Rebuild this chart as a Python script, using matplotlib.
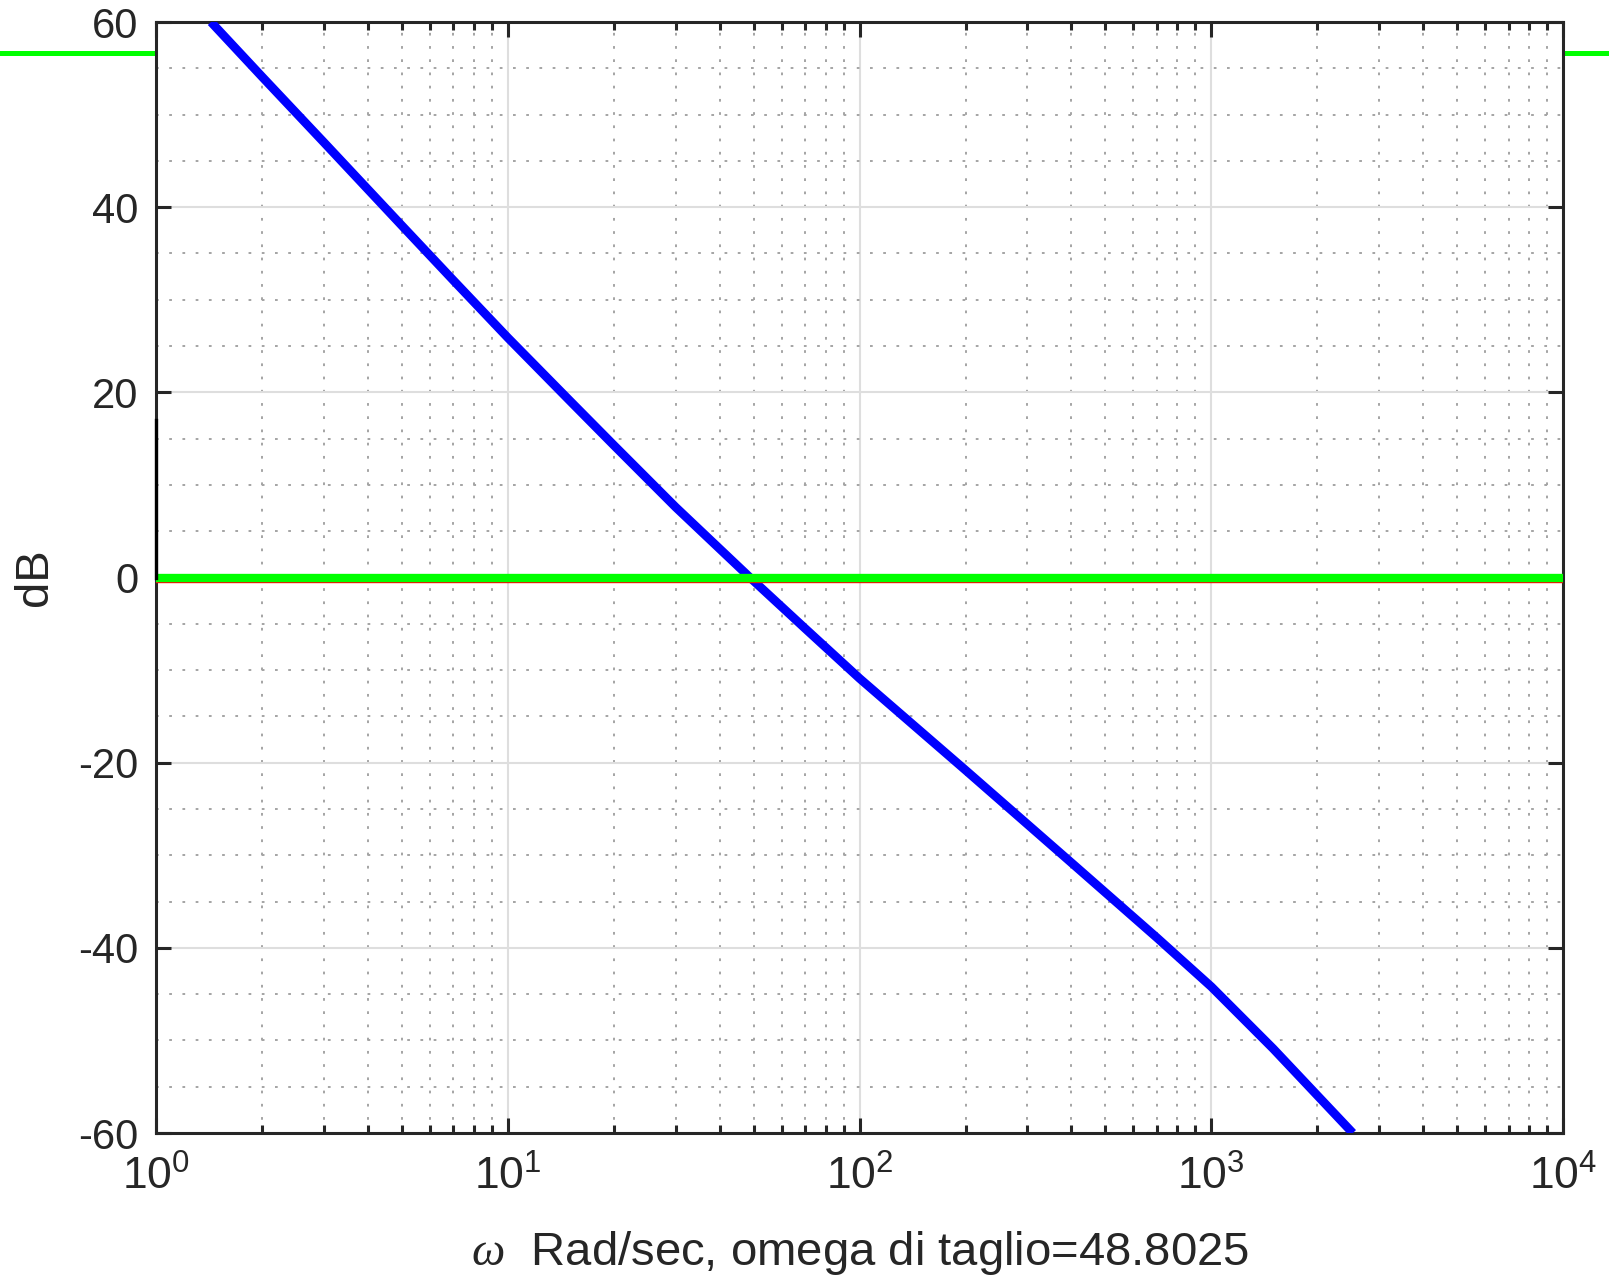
import numpy as np
import matplotlib
matplotlib.use("Agg")
import matplotlib.pyplot as plt
from matplotlib.lines import Line2D
from matplotlib.ticker import LogLocator, MultipleLocator, NullFormatter

plt.rcParams['font.family'] = ['Liberation Sans', 'DejaVu Sans']
plt.rcParams['mathtext.fontset'] = 'custom'
plt.rcParams['mathtext.rm'] = 'Liberation Sans'
plt.rcParams['mathtext.it'] = 'Liberation Serif:italic'
plt.rcParams['axes.unicode_minus'] = False

# open-loop magnitude (rad/s, dB)
w = [1.433, 2, 3, 5, 7, 10, 15, 20, 30, 48.8, 70,
     100, 200, 400, 700, 1000, 1500, 2524]
mag_db = [60, 54.1, 47.0, 38.0, 32.1, 25.9, 19.1, 14.3, 7.6, 0, -5.5,
          -10.9, -20.8, -30.8, -38.9, -44.2, -50.9, -60]
w_cross = 48.8025
zero_db = 0
red_ref_db = -0.5
upper_ref_db = 56.7
left_mark_db = [0, 17]
y_ticks = [-60, -40, -20, 0, 20, 40, 60]
x_decades = [1, 10, 100, 1000, 10000]

txt = '#262626'
fig = plt.figure(figsize=(16.09, 12.8), dpi=100)
ax = fig.add_axes([0.097, 0.1148, 0.8745, 0.868])

ax.semilogx(w, mag_db, color=(0, 0, 1), lw=6.3, solid_capstyle='butt',
            solid_joinstyle='round', zorder=3)
ax.axhline(red_ref_db, color='red', lw=1, zorder=4)
ax.axhline(zero_db, color=(0, 1, 0), lw=6, zorder=5)
ax.plot([x_decades[0], x_decades[0]], left_mark_db, color='black', lw=2.4,
        zorder=6, clip_on=False)

ax.set_xlim(x_decades[0], x_decades[-1])
ax.set_ylim(y_ticks[0], y_ticks[-1])
ax.set_xticks(x_decades)
ax.set_xticklabels([r'$\mathdefault{10^{%d}}$' % int(np.log10(v)) for v in x_decades])
ax.xaxis.set_minor_locator(LogLocator(base=10, subs=np.arange(2, 10)))
ax.xaxis.set_minor_formatter(NullFormatter())
ax.set_yticks(y_ticks)
ax.yaxis.set_minor_locator(MultipleLocator(5))

ax.grid(True, which='major', color='#dedede', lw=1.5, ls='-', zorder=0)
ax.grid(True, which='minor', color='#a4a4a4', lw=1.4, ls=(0, (1.4, 5.4)), zorder=0)
ax.set_axisbelow(True)

ax.tick_params(which='both', direction='in', top=True, right=True,
               colors=txt, labelcolor=txt, width=2.2)
ax.tick_params(which='major', length=11)
ax.tick_params(axis='y', which='major', pad=13, labelsize=30)
ax.tick_params(axis='x', which='major', pad=16, labelsize=32)
ax.tick_params(axis='x', which='minor', length=6)
ax.tick_params(axis='y', which='minor', length=0)
for s in ax.spines.values():
    s.set_linewidth(2.2)
    s.set_color(txt)

ax.set_ylabel('dB', fontsize=34, color=txt, labelpad=15)
ax.set_xlabel(r'$\omega$  Rad/sec, omega di taglio=' + str(w_cross),
              fontsize=34, color=txt, labelpad=22)

# stray reference line from the underlying axes, visible only beside the frame
y_fig = ax.transData.transform((1, upper_ref_db))[1] / fig.bbox.height
fig.add_artist(Line2D([0, 1], [y_fig, y_fig], color=(0, 1, 0), lw=3.6,
                      transform=fig.transFigure, zorder=-1))
ax.set_zorder(1)

fig.savefig('out.png', dpi=100, facecolor='white')
